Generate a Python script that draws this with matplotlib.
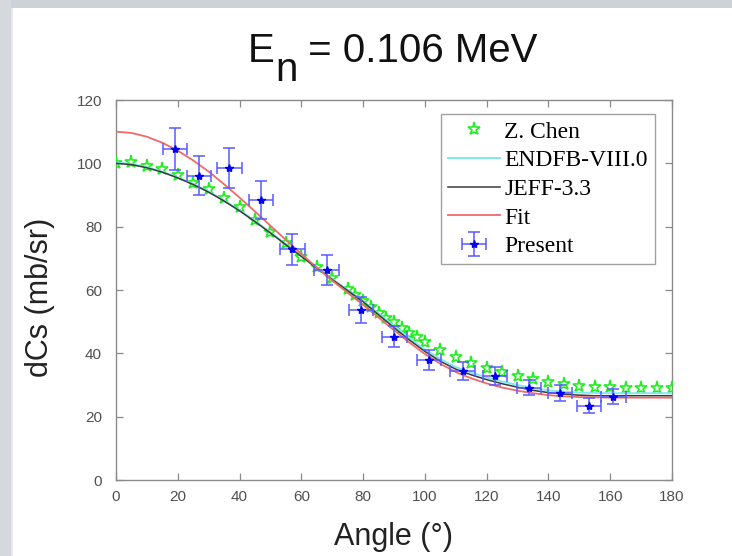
"""Neutron elastic angular distribution at En = 0.106 MeV: data vs evaluations + fit."""
import matplotlib
matplotlib.use("Agg")
import matplotlib.pyplot as plt
from matplotlib.patches import Rectangle

plt.rcParams["font.family"] = ["Liberation Sans", "DejaVu Sans"]

# --- data --------------------------------------------------------------------
# Z. Chen (stars)
chen_angle = [0, 5, 10, 15, 20, 25, 30, 35, 40, 45, 50, 55, 60, 65, 70, 75,
              77.5, 80, 82.5, 85, 87.5, 90, 92.5, 95, 97.5, 100,
              105, 110, 115, 120, 125, 130, 135, 140, 145, 150, 155, 160,
              165, 170, 175, 180]
chen_dcs = [100.2, 100.3, 99.1, 98.1, 96.3, 93.9, 91.8, 88.9, 86.1, 82.1, 78.4,
            74.7, 70.5, 67.4, 63.7, 60.2,
            58.3, 56.4, 54.5, 52.8, 51.2, 49.8, 48.0, 46.4, 45.2, 43.7,
            41.0, 38.9, 37.0, 35.3, 34.2, 32.8, 31.8, 31.1, 30.2, 29.7, 29.5,
            29.3, 29.2, 29.2, 29.2, 29.0]

# evaluated / fitted curves, tabulated every 5 degrees
curve_angle = list(range(0, 181, 5))
jeff_dcs = [100.0, 99.6, 98.6, 97.2, 95.4, 93.3, 90.9, 88.1, 85.0, 81.6, 78.0,
            74.3, 70.6, 66.9, 63.3, 59.8, 56.3, 52.2, 48.1, 44.2, 40.6, 37.5,
            35.0, 33.2, 31.7, 30.4, 29.3, 28.3, 27.6, 27.1, 26.8, 26.6, 26.6,
            26.6, 26.6, 26.6, 26.6]
endf_dcs = [100.2, 99.8, 98.8, 97.4, 95.6, 93.5, 91.1, 88.3, 85.2, 81.8, 78.2,
            74.5, 70.8, 67.1, 63.5, 60.0, 56.6, 52.6, 48.6, 44.8, 41.2, 38.2,
            35.7, 33.9, 32.4, 31.1, 30.0, 29.0, 28.3, 27.9, 27.6, 27.5, 27.4,
            27.4, 27.4, 27.4, 27.4]
fit_dcs = [110.0, 109.6, 108.4, 106.5, 104.0, 100.9, 97.4, 93.4, 89.2, 84.8,
           80.3, 75.8, 71.4, 67.1, 63.0, 59.1, 55.3, 51.3, 47.3, 43.4, 39.8,
           36.7, 34.1, 32.1, 30.5, 29.2, 28.2, 27.4, 26.8, 26.4, 26.2, 26.1,
           26.0, 26.0, 26.0, 26.0, 26.0]

# present measurement
pres_angle = [19.1, 26.9, 36.7, 46.9, 57.1, 68.2, 79.3, 90.1, 101.3, 112.2,
              122.7, 133.7, 143.7, 153.1, 161.0]
pres_dcs = [104.5, 96.1, 98.4, 88.4, 72.9, 66.3, 53.7, 45.3, 37.9, 34.5,
            32.8, 29.2, 27.4, 23.5, 26.3]
pres_yerr = [6.7, 6.2, 6.3, 5.9, 4.9, 4.6, 4.0, 3.3, 3.2, 2.9, 2.8, 2.5, 2.5,
             2.3, 2.3]
pres_xerr = [4.0] * len(pres_angle)

# --- figure ------------------------------------------------------------------
W, H = 732, 556
fig = plt.figure(figsize=(W / 100, H / 100), dpi=100, facecolor="white")

# screenshot frame (grey strips top and left)
fig.add_artist(Rectangle((0, 1 - 8 / H), 1, 8 / H, transform=fig.transFigure,
                         color="#cdd2d9", lw=0, zorder=-5))
fig.add_artist(Rectangle((0, 0), 11 / W, 1, transform=fig.transFigure,
                         color="#d5d8dd", lw=0, zorder=-5))
fig.add_artist(Rectangle((11 / W, 0), 2 / W, 1 - 8 / H, transform=fig.transFigure,
                         color="#e8e8e8", lw=0, zorder=-5))

ax = fig.add_axes([116 / W, 1 - 480 / H, 556 / W, 380 / H])

ax.plot(chen_angle, chen_dcs, ls="none", marker="*", ms=9.5, mfc="none",
        mec="#22ee22", mew=1.2, label="Z. Chen", zorder=3)
ax.plot(curve_angle, endf_dcs, color="#7fe8f0", lw=1.4, label="ENDFB-VIII.0",
        zorder=4)
ax.plot(curve_angle, jeff_dcs, color="#3a3a3a", lw=1.1, label="JEFF-3.3",
        zorder=5)
ax.plot(curve_angle, fit_dcs, color="#f06a6a", lw=1.3, label="Fit", zorder=5)
ax.errorbar(pres_angle, pres_dcs, yerr=pres_yerr, xerr=pres_xerr, fmt="*",
            color="#0000ee", ms=6, ecolor="#5a5aff", elinewidth=1.1,
            capsize=4, capthick=1.1, label="Present", zorder=6)

ax.set_xlim(0, 180)
ax.set_ylim(0, 120)
ax.set_xticks(range(0, 181, 20))
ax.set_yticks(range(0, 121, 20))
for s in ax.spines.values():
    s.set_color("#8a8a8a")
    s.set_linewidth(1.0)
ax.tick_params(direction="in", top=True, right=True, length=5, width=0.9,
               color="#8a8a8a", labelcolor="#505050", labelsize=11, pad=7)
ax.tick_params(axis="y", pad=10)

ax.set_xlabel("Angle (°)", fontsize=22, color="#222222")
ax.xaxis.set_label_coords(0.5, -0.11)
ax.set_ylabel("dCs (mb/sr)", fontsize=22, color="#222222")
ax.yaxis.set_label_coords(-0.11, 0.48)

leg = ax.legend(loc="upper right", bbox_to_anchor=(0.9694, 0.963),
                borderaxespad=0, frameon=True, fancybox=False,
                prop={"family": "Liberation Serif", "size": 17},
                handlelength=2.2, handletextpad=0.2, labelspacing=0.3,
                borderpad=0.3)
leg.get_frame().set_edgecolor("#8a8a8a")
leg.get_frame().set_linewidth(1.0)

# title "E_n = 0.106 MeV" with a full-size, lowered subscript
fig.canvas.draw()
r = fig.canvas.get_renderer()
ty = 1 - 62 / H
kw = dict(fontsize=29, color="#111111", va="baseline", ha="left")
parts = [fig.text(0, ty, "E", **kw), fig.text(0, ty - 19 / H, "n", **kw),
         fig.text(0, ty, " = 0.106 MeV", **kw)]
widths = [p.get_window_extent(r).width for p in parts]
x = 393 - sum(widths) / 2
for p, w in zip(parts, widths):
    p.set_x(x / W)
    x += w

fig.savefig("out.png", dpi=100, facecolor=fig.get_facecolor())
